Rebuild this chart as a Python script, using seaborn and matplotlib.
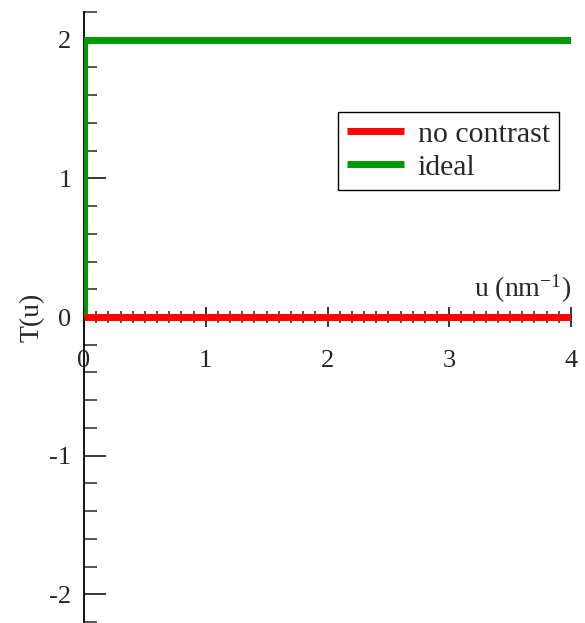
import numpy as np
import pandas as pd
import matplotlib
matplotlib.use('Agg')
from matplotlib import pyplot as plt
from matplotlib.ticker import MultipleLocator
import seaborn as sns

# data
u_nocontrast = [0.0, 4.0]
T_nocontrast = [0.0, 0.0]
u_ideal = [0.0, 0.0, 4.0]
T_ideal = [0.0, 2.0, 2.0]
series_names = ['no contrast', 'ideal']
series_colors = ['#ff0000', '#009a00']

sns.set_style('ticks')
plt.rcParams['font.family'] = ['Liberation Serif', 'DejaVu Serif']
plt.rcParams['mathtext.fontset'] = 'custom'
plt.rcParams['mathtext.rm'] = 'Liberation Serif'
plt.rcParams['mathtext.it'] = 'Liberation Serif:italic'
plt.rcParams['lines.solid_capstyle'] = 'butt'

fig = plt.figure(figsize=(5.85, 6.23), dpi=100)
ax = fig.add_axes([84 / 585, 1 - 622 / 623, 487 / 585, 610 / 623])

sns.lineplot(x=u_nocontrast, y=T_nocontrast, ax=ax, sort=False, estimator=None,
             color=series_colors[0], linewidth=5, label=series_names[0], zorder=4)
sns.lineplot(x=u_ideal, y=T_ideal, ax=ax, sort=False, estimator=None,
             color=series_colors[1], linewidth=5, label=series_names[1], zorder=3)
for ln in ax.get_lines():
    ln.set_solid_capstyle('butt')
    ln.set_solid_joinstyle('miter')

ax.set_xlim(0, 4)
ax.set_ylim(-2.2, 2.2)

ax.spines['top'].set_visible(False)
ax.spines['right'].set_visible(False)
ax.spines['bottom'].set_position(('data', 0))
for s in ['left', 'bottom']:
    ax.spines[s].set_linewidth(1.3)
    ax.spines[s].set_color('black')
    ax.spines[s].set_zorder(2)

ax.xaxis.set_major_locator(MultipleLocator(1))
ax.xaxis.set_minor_locator(MultipleLocator(0.1))
ax.yaxis.set_major_locator(MultipleLocator(1))
ax.yaxis.set_minor_locator(MultipleLocator(0.2))

ax.tick_params(axis='x', which='major', direction='inout', length=15, width=1.3, pad=16, labelsize=19)
ax.tick_params(axis='x', which='minor', direction='inout', length=8, width=1.1)
ax.tick_params(axis='y', which='major', direction='in', length=16, width=1.3, pad=9, labelsize=19)
ax.tick_params(axis='y', which='minor', direction='in', length=9.5, width=1.1)
ax.set_yticks([-2, -1, 0, 1, 2])
ax.set_yticklabels(['-2', '-1', '0', '1', '2'])

ax.set_ylabel('T(u)', fontsize=20)
ax.yaxis.set_label_coords(-0.08, 0.5)
xl = ax.set_xlabel(r'u (nm$^{\mathrm{-1}}$)', fontsize=20)
xl.set_ha('right')
xl.set_va('bottom')
ax.xaxis.set_label_coords(1.0, 0.52)

leg = ax.legend(loc='upper right', bbox_to_anchor=(0.975, 0.836), borderaxespad=0,
                fontsize=21.5, frameon=True, fancybox=False, handlelength=1.9,
                handletextpad=0.45, borderpad=0.3, labelspacing=0.2)
leg.get_frame().set_edgecolor('black')
leg.get_frame().set_linewidth(1.0)
leg.get_frame().set_alpha(1)
for h in leg.get_lines():
    h.set_solid_capstyle('butt')

fig.savefig('out.png', dpi=100)
